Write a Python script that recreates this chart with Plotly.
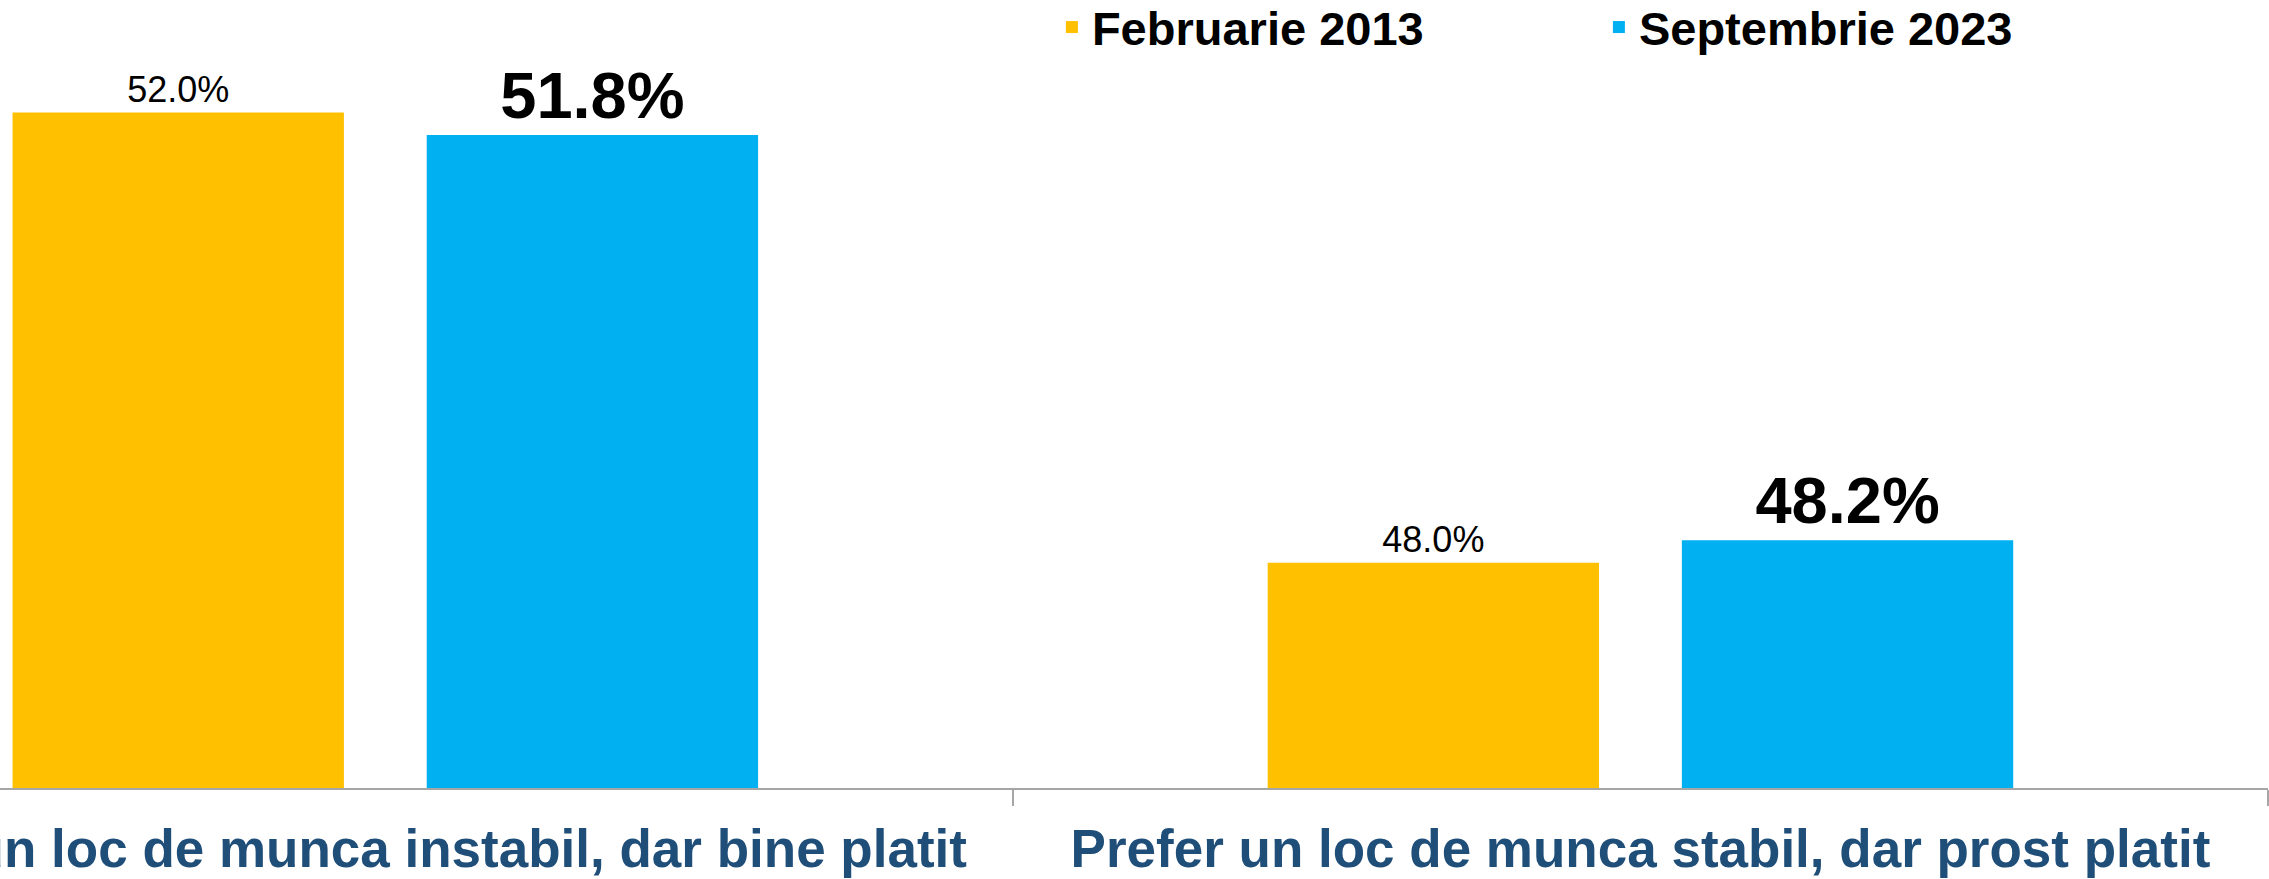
import plotly.graph_objects as go

categories = [
    "Prefer un loc de munca instabil, dar bine platit",
    "Prefer un loc de munca stabil, dar prost platit",
]
series_names = ["Februarie 2013", "Septembrie 2023"]
feb_2013 = [52.0, 48.0]
sep_2023 = [51.8, 48.2]

YELLOW = "#FFC000"
BLUE = "#00B0F0"
FONT = "Liberation Sans, Arial, sans-serif"

fig = go.Figure()
fig.add_trace(go.Bar(
    name=series_names[0], x=categories, y=feb_2013,
    marker_color=YELLOW, marker_line_width=0,
    texttemplate="%{y:.1f}%", textposition="outside",
    textfont=dict(family=FONT, size=36, color="black"),
    cliponaxis=False, constraintext="none",
))
fig.add_trace(go.Bar(
    name=series_names[1], x=categories, y=sep_2023,
    marker_color=BLUE, marker_line_width=0,
    texttemplate="<b>%{y:.1f}%</b>", textposition="outside",
    textfont=dict(family=FONT, size=65, color="black"),
    cliponaxis=False, constraintext="none",
))

fig.update_layout(
    template="none",
    width=2269, height=879,
    margin=dict(l=0, r=1, t=0, b=91, autoexpand=False),
    plot_bgcolor="white", paper_bgcolor="white",
    barmode="group", bargap=0.34, bargroupgap=0.2,
    font=dict(family=FONT),
    showlegend=True,
    legend=dict(
        orientation="h", x=0.4638, xanchor="left", y=1.0127, yanchor="top",
        font=dict(family=FONT, size=47, color="black", weight="bold"),
        entrywidth=502, entrywidthmode="pixels",
        bgcolor="rgba(0,0,0,0)",
    ),
    xaxis=dict(
        type="category", range=[-0.307, 1.5],
        showline=True, linecolor="#A6A6A6", linewidth=2,
        ticks="outside", ticklen=16, tickcolor="#A6A6A6", tickwidth=2,
        tickson="boundaries", automargin=False, showgrid=False,
        ticklabelstandoff=13,
        tickfont=dict(family=FONT, size=53, color="#1F4E79", weight="bold"),
    ),
    yaxis=dict(
        range=[46, 53], showticklabels=False, showgrid=False,
        zeroline=False, showline=False, ticks="", automargin=False,
    ),
)

# drop the browser's default body margin so the chart sits at the page corner
fig.write_html(
    "out.html",
    config={"displayModeBar": False},
    post_script="document.body.style.margin='0';",
)
